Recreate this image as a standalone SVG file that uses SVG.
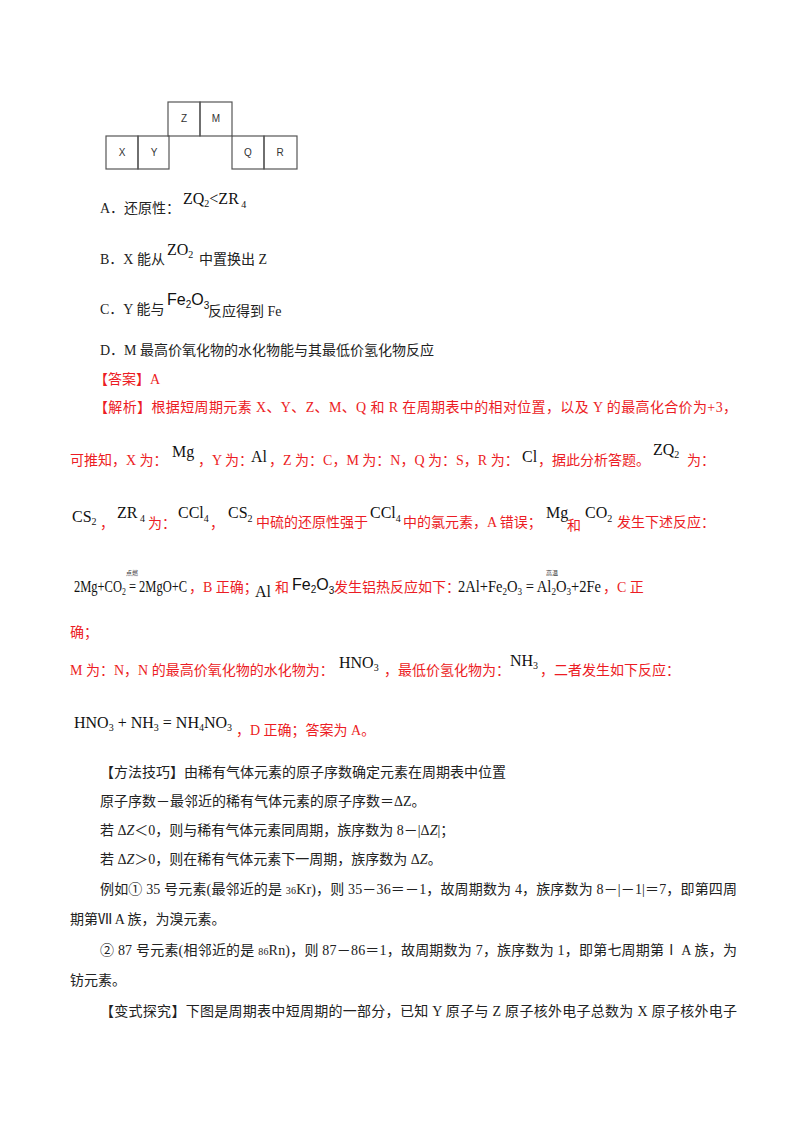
<svg xmlns="http://www.w3.org/2000/svg" width="800" height="1132" viewBox="0 0 800 1132">
<style>
text{font-family:"Liberation Serif","Noto Sans CJK SC",serif;font-size:14px;fill:#222}
.q{font-size:16px;fill:#111}
.r{fill:#ec1c24}
.s{font-size:10px}
.f{font-family:"Liberation Sans","Noto Sans CJK SC",sans-serif;font-size:16px;fill:#111}
.t{font-family:"Liberation Sans",sans-serif;font-size:10px;fill:#333}
.b{fill:none;stroke:#555;stroke-width:1.2}
.m{font-size:6px}
</style>
<rect width="800" height="1132" fill="#fff"/>
<g id="table">
<rect class="b" x="168" y="102" width="32" height="34"/>
<rect class="b" x="200" y="102" width="32" height="34"/>
<rect class="b" x="106" y="136" width="32" height="33"/>
<rect class="b" x="138" y="136" width="31" height="33"/>
<rect class="b" x="232" y="136" width="32" height="33"/>
<rect class="b" x="264" y="136" width="33" height="33"/>
<text class="t" x="184" y="122" text-anchor="middle">Z</text>
<text class="t" x="216" y="122" text-anchor="middle">M</text>
<text class="t" x="122" y="156" text-anchor="middle">X</text>
<text class="t" x="154" y="156" text-anchor="middle">Y</text>
<text class="t" x="248" y="156" text-anchor="middle">Q</text>
<text class="t" x="280" y="156" text-anchor="middle">R</text>
</g>
<text x="100" y="213">A．还原性：</text>
<text class="q" x="183" y="204">ZQ<tspan class="s" dy="3">2</tspan><tspan dy="-3">&lt;ZR</tspan><tspan class="s" dy="4"> 4</tspan></text>
<text x="100" y="264">B．X 能从</text>
<text class="q" x="167" y="255">ZO<tspan class="s" dy="3">2</tspan></text>
<text x="199" y="264">中置换出 Z</text>
<text x="100" y="314">C．Y 能与</text>
<text class="f" x="167" y="305">Fe<tspan font-size="10" dy="3">2</tspan><tspan dy="-3">O</tspan><tspan font-size="10" dy="4">3</tspan></text>
<text x="208" y="316">反应得到 Fe</text>
<text x="100" y="355">D．M 最高价氧化物的水化物能与其最低价氢化物反应</text>
<text class="r" x="94" y="384">【答案】A</text>
<text class="r" x="94" y="412" textLength="643">【解析】根据短周期元素 X、Y、Z、M、Q 和 R 在周期表中的相对位置，以及 Y 的最高化合价为+3，</text>
<text class="r" x="70" y="465">可推知，X 为：</text>
<text class="q" x="172" y="457">Mg</text>
<text class="r" x="198" y="465">，Y 为：</text>
<text class="q" x="251" y="462">Al</text>
<text class="r" x="269" y="465">，Z 为：C，M 为：N，Q 为：S，R 为：</text>
<text class="q" x="522" y="462">Cl</text>
<text class="r" x="538" y="465">，据此分析答题。</text>
<text class="q" x="653" y="455">ZQ<tspan class="s" dy="3">2</tspan></text>
<text class="r" x="687" y="465">为：</text>
<text class="q" x="72" y="522">CS<tspan class="s" dy="3">2</tspan></text>
<text class="r" x="100" y="528">，</text>
<text class="q" x="117" y="518">ZR<tspan class="s" dy="4"> 4</tspan></text>
<text class="r" x="148" y="528">为：</text>
<text class="q" x="178" y="518">CCl<tspan class="s" dy="4">4</tspan></text>
<text class="r" x="210" y="528">，</text>
<text class="q" x="228" y="518">CS<tspan class="s" dy="4">2</tspan></text>
<text class="r" x="256" y="527">中硫的还原性强于</text>
<text class="q" x="370" y="518">CCl<tspan class="s" dy="4">4</tspan></text>
<text class="r" x="403" y="527">中的氯元素，A 错误；</text>
<text class="q" x="546" y="518">Mg</text>
<text class="r" x="567" y="530">和</text>
<text class="q" x="585" y="518">CO<tspan class="s" dy="4">2</tspan></text>
<text class="r" x="617" y="527">发生下述反应：</text>
<text class="q" x="74" y="592" textLength="113" lengthAdjust="spacingAndGlyphs">2Mg+CO<tspan class="s" dy="3">2</tspan><tspan dy="-3"> = 2MgO+C</tspan></text>
<text class="m" x="126" y="575" style="fill:#333">点燃</text>
<text class="r" x="189" y="592">，B 正确；</text>
<text class="q" x="255" y="597">Al</text>
<text class="r" x="275" y="592">和</text>
<text class="f" x="292" y="590">Fe<tspan font-size="10" dy="3">2</tspan><tspan dy="-3">O</tspan><tspan font-size="10" dy="4">3</tspan></text>
<text class="r" x="334" y="592">发生铝热反应如下：</text>
<text class="q" x="458" y="592" textLength="143" lengthAdjust="spacingAndGlyphs">2Al+Fe<tspan class="s" dy="3">2</tspan><tspan dy="-3">O</tspan><tspan class="s" dy="3">3</tspan><tspan dy="-3"> = Al</tspan><tspan class="s" dy="3">2</tspan><tspan dy="-3">O</tspan><tspan class="s" dy="3">3</tspan><tspan dy="-3">+2Fe</tspan></text>
<text class="m" x="546" y="575" style="fill:#333">高温</text>
<text class="r" x="603" y="592">，C 正</text>
<text class="r" x="70" y="637">确；</text>
<text class="r" x="70" y="675">M 为：N，N 的最高价氧化物的水化物为：</text>
<text class="q" x="339" y="668">HNO<tspan class="s" dy="3">3</tspan></text>
<text class="r" x="384" y="675">，最低价氢化物为：</text>
<text class="q" x="510" y="666">NH<tspan class="s" dy="3">3</tspan></text>
<text class="r" x="540" y="675">，二者发生如下反应：</text>
<text class="q" x="74" y="728">HNO<tspan class="s" dy="3">3</tspan><tspan dy="-3"> + NH</tspan><tspan class="s" dy="3">3</tspan><tspan dy="-3"> = NH</tspan><tspan class="s" dy="3">4</tspan><tspan dy="-3">NO</tspan><tspan class="s" dy="3">3</tspan></text>
<text class="r" x="236" y="735">，D 正确；答案为 A。</text>
<g id="method">
<text x="100" y="777">【方法技巧】由稀有气体元素的原子序数确定元素在周期表中位置</text>
<text x="100" y="806">原子序数－最邻近的稀有气体元素的原子序数＝ΔZ。</text>
<text x="100" y="835">若 Δ<tspan font-style="italic">Z</tspan>＜0，则与稀有气体元素同周期，族序数为 8－|Δ<tspan font-style="italic">Z</tspan>|；</text>
<text x="100" y="864">若 Δ<tspan font-style="italic">Z</tspan>＞0，则在稀有气体元素下一周期，族序数为 Δ<tspan font-style="italic">Z</tspan>。</text>
<text x="100" y="894" textLength="637">例如① 35 号元素(最邻近的是 <tspan class="s">36</tspan>Kr)，则 35－36＝－1，故周期数为 4，族序数为 8－|－1|＝7，即第四周</text>
<text x="70" y="924">期第Ⅶ A 族，为溴元素。</text>
<text x="100" y="955" textLength="637">② 87 号元素(相邻近的是 <tspan class="s">86</tspan>Rn)，则 87－86＝1，故周期数为 7，族序数为 1，即第七周期第Ⅰ A 族，为</text>
<text x="70" y="985">钫元素。</text>
<text x="100" y="1016" textLength="637">【变式探究】下图是周期表中短周期的一部分，已知 Y 原子与 Z 原子核外电子总数为 X 原子核外电子</text>
</g>
</svg>
